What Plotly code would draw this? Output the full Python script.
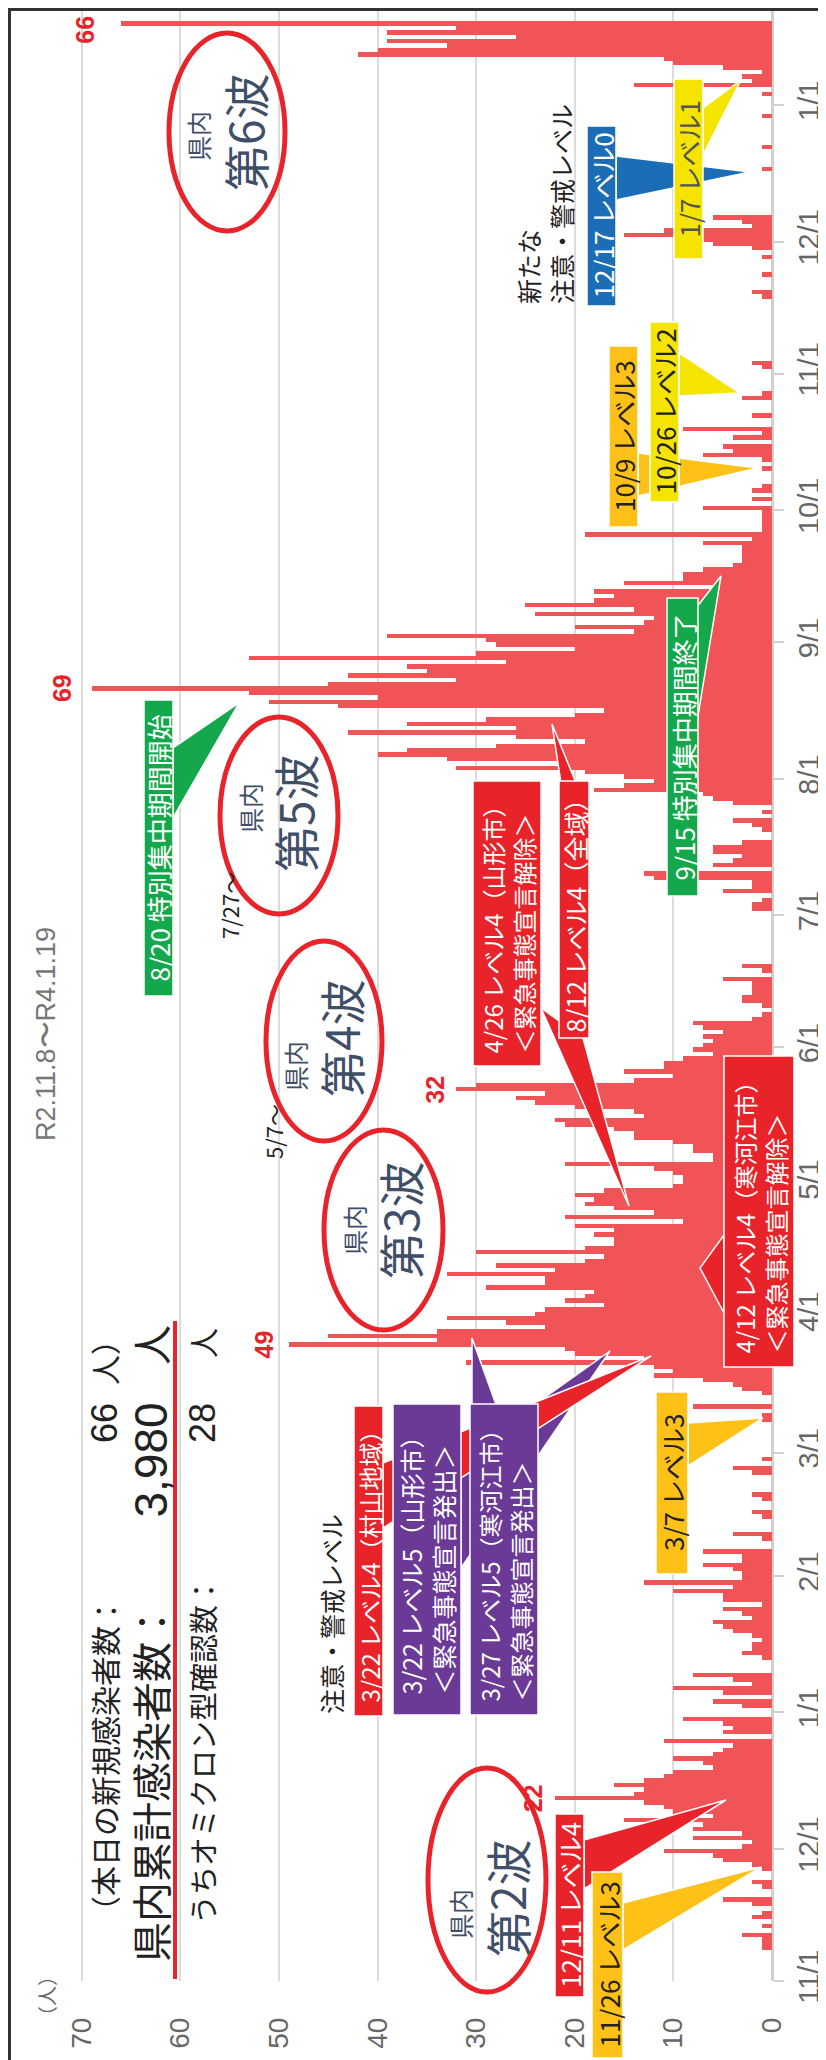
import pandas as pd
import plotly.graph_objects as go

# ---------------- data (daily new cases) ----------------
start_date = "2020-11-08"
nov_2020 = [1, 1, 1, 3, 0, 1, 0, 2, 1, 0, 2, 5, 0, 0, 1, 2, 0, 0, 1, 2, 5, 6, 11]
dec_2020 = [3, 2, 8, 3, 8, 7, 15, 6, 10, 11, 13, 22, 14, 13, 16, 13, 11, 10, 6, 7,
            10, 6, 5, 4, 11, 0, 5, 4, 5, 9, 0]
jan_2021 = [0, 3, 6, 0, 5, 10, 2, 4, 8, 0, 0, 0, 1, 3, 2, 2, 1, 2, 4, 5,
            6, 2, 3, 5, 1, 5, 5, 10, 4, 13, 3]
feb_2021 = [3, 4, 7, 3, 3, 7, 0, 0, 1, 4, 0, 0, 0, 1, 2, 0, 0, 1, 2, 0,
            0, 0, 0, 2, 4, 0, 1, 0]
mar_2021 = [0, 0, 0, 0, 0, 0, 0, 1, 1, 0, 8, 0, 0, 1, 3, 4, 7, 12, 10, 12,
            31, 13, 20, 21, 49, 34, 45, 34, 23, 27, 33]
apr_2021 = [24, 23, 17, 21, 19, 18, 29, 23, 23, 33, 22, 28, 19, 17, 30, 19, 16, 16, 18, 16,
            20, 9, 21, 12, 16, 19, 18, 20, 17, 10]
may_2021 = [9, 9, 10, 12, 21, 6, 6, 8, 8, 10, 14, 14, 16, 21, 22, 13, 14, 20, 24, 26,
            23, 32, 30, 14, 10, 15, 11, 11, 9, 6, 8]
jun_2021 = [7, 6, 7, 5, 7, 8, 2, 1, 0, 1, 3, 3, 2, 2, 2, 5, 0, 1, 3, 0,
            0, 0, 0, 0, 0, 0, 0, 0, 0, 0]
jul_2021 = [0, 2, 2, 1, 0, 5, 2, 2, 12, 13, 0, 6, 4, 3, 6, 6, 3, 0, 0, 1,
            2, 4, 0, 1, 0, 4, 6, 7, 18, 15, 12]
aug_2021 = [15, 19, 32, 21, 33, 40, 37, 28, 19, 26, 43, 26, 37, 29, 20, 17, 44, 51, 40, 53,
            69, 45, 32, 43, 35, 37, 27, 53, 30, 20, 28]
sep_2021 = [29, 39, 14, 20, 13, 12, 24, 14, 25, 18, 16, 18, 6, 15, 9, 9, 7, 4, 3, 3,
            3, 3, 7, 2, 19, 1, 1, 1, 1, 1]
oct_2021 = [7, 0, 2, 0, 2, 1, 0, 0, 0, 1, 0, 1, 7, 4, 5, 0, 4, 1, 9, 0,
            0, 2, 0, 0, 0, 3, 1, 0, 0, 0, 0]
nov_2021 = [0, 1, 2, 0, 0, 0, 0, 0, 0, 0, 0, 0, 0, 0, 0, 0, 0, 1, 2, 0,
            0, 0, 1, 0, 0, 0, 1, 0, 2, 6]
dec_2021 = [7, 15, 11, 2, 3, 6, 0, 0, 0, 0, 0, 0, 0, 0, 0, 0, 1, 0, 0, 0,
            0, 1, 0, 0, 0, 0, 0, 0, 1, 0, 0]
jan_2022 = [0, 0, 1, 0, 14, 2, 3, 1, 5, 10, 11, 42, 40, 33, 39, 26, 39, 32, 66]

daily_new_cases = (nov_2020 + dec_2020 + jan_2021 + feb_2021 + mar_2021 + apr_2021 +
                   may_2021 + jun_2021 + jul_2021 + aug_2021 + sep_2021 + oct_2021 +
                   nov_2021 + dec_2021 + jan_2022)
dates = pd.date_range(start_date, periods=len(daily_new_cases), freq="D")

value_ticks = [0, 10, 20, 30, 40, 50, 60, 70]
month_ticks = pd.date_range("2020-11-01", "2022-01-01", freq="MS")
month_labels = [f"{d.month}/1" for d in month_ticks]

peak_dates = ["2020-12-12", "2021-03-25", "2021-05-22", "2021-08-21", "2022-01-19"]

header_today = 66
header_total = "3,980"
header_omicron = 28
period_text = "R2.11.8〜R4.1.19"

# ---------------- geometry helpers ----------------
FW, FH = 826, 2060
ML, MR, MT, MB = 69, 62, 3, 87
PW = FW - ML - MR
PH = FH - MT - MB
PX_PER_DAY = 4.4035
JP = "Noto Sans CJK JP"
LAT = "Liberation Sans"


def px(x):
    return (x - ML) / PW


def py(y):
    return (FH - MB - y) / PH


shapes = []
annotations = []
boxes_text = []


def text(x, y, s, size, color="#222", family=JP, xanchor="center", yanchor="middle",
         align="center", weight="normal"):
    annotations.append(dict(xref="paper", yref="paper", x=px(x), y=py(y), text=s,
                            showarrow=False, textangle=-90, xanchor=xanchor, yanchor=yanchor,
                            align=align,
                            font=dict(family=family, size=size, color=color, weight=weight)))


def poly(points, color):
    path = "M " + " L ".join(f"{px(a):.5f},{py(b):.5f}" for a, b in points) + " Z"
    shapes.append(dict(type="path", xref="paper", yref="paper", path=path,
                       fillcolor=color, line=dict(color="white", width=1.5), layer="above"))


def box(x0, x1, y0, y1, color, s, tcolor, size=26, align="center"):
    shapes.append(dict(type="rect", xref="paper", yref="paper", x0=px(x0), x1=px(x1),
                       y0=py(y1), y1=py(y0), fillcolor=color,
                       line=dict(color="white", width=1.5), layer="above"))
    boxes_text.append(((x0 + x1) / 2, (y0 + y1) / 2, s, tcolor, size, align))


RED = "#E8232A"
PURPLE = "#6B3996"
AMBER = "#FDC117"
YELLOW = "#F4E400"
BLUE = "#1B6DB6"
GREEN = "#15A74B"

# ---------------- pointers ----------------
poly([(615, 1895), (615, 1942), (753, 1859)], AMBER)          # 11/26
poly([(576, 1832), (576, 1881), (718, 1792)], RED)            # 12/11
poly([(453, 1449), (453, 1560), (602, 1343)], PURPLE)         # 3/22 山形市
poly([(375, 1455), (375, 1520), (643, 1348)], RED)            # 3/22 村山
poly([(464, 1402), (490, 1402), (464, 1330)], PURPLE)         # 3/27
poly([(680, 1415), (680, 1458), (755, 1410)], AMBER)          # 3/7
poly([(716, 1227), (716, 1305), (692, 1260)], RED)            # 4/12
poly([(533, 1000), (575, 1030), (621, 1198)], RED)            # 4/26
poly([(553, 775), (568, 775), (544, 716)], RED)               # 8/12
poly([(165, 740), (165, 810), (231, 695)], GREEN)             # 8/20
poly([(688, 600), (688, 720), (713, 568)], GREEN)             # 9/15
poly([(630, 445), (630, 488), (750, 460)], AMBER)             # 10/9
poly([(671, 345), (671, 388), (732, 385)], YELLOW)            # 10/26
poly([(608, 148), (608, 192), (742, 164)], BLUE)              # 12/17
poly([(695, 100), (695, 147), (733, 72)], YELLOW)             # 1/7

# ---------------- boxes ----------------
box(584, 615, 1864, 2050, AMBER, "11/26 レベル3", "#222")
box(547, 576, 1806, 1989, RED, "12/11 レベル4", "white")
box(346, 375, 1398, 1708, RED, "3/22 レベル4（村山地域）", "white", size=24)
box(385, 453, 1396, 1707, PURPLE, "3/22 レベル5（山形市）<br>＜緊急事態宣言発出＞", "white", size=25, align="left")
box(462, 530, 1396, 1707, PURPLE, "3/27 レベル5（寒河江市）<br>＜緊急事態宣言発出＞", "white", size=24, align="left")
box(648, 680, 1384, 1566, AMBER, "3/7 レベル3", "#222")
box(716, 786, 1048, 1359, RED, "4/12 レベル4（寒河江市）<br>＜緊急事態宣言解除＞", "white", size=24, align="left")
box(465, 533, 773, 1058, RED, "4/26 レベル4（山形市）<br>＜緊急事態宣言解除＞", "white", size=24, align="left")
box(551, 581, 773, 1030, RED, "8/12 レベル4（全域）", "white", size=25)
box(136, 165, 692, 988, GREEN, "8/20 特別集中期間開始", "white")
box(659, 690, 590, 888, GREEN, "9/15 特別集中期間終了", "white")
box(601, 630, 338, 519, AMBER, "10/9 レベル3", "#222")
box(642, 671, 314, 494, YELLOW, "10/26 レベル2", "#222")
box(579, 608, 118, 298, BLUE, "12/17 レベル0", "white")
box(666, 695, 71, 251, YELLOW, "1/7 レベル1", "#555")

for cx, cy, s, tc, sz, al in boxes_text:
    text(cx, cy, s, sz, color=tc, align=al)

# ---------------- wave ellipses ----------------
waves = [
    ("第2波", 420, 538, 1760, 1984, (452, 1906), (498, 1890)),
    ("第3波", 316, 435, 1122, 1322, (346, 1222), (391, 1212)),
    ("第4波", 258, 374, 933, 1133, (287, 1058), (332, 1030)),
    ("第5波", 212, 330, 709, 906, (242, 800), (286, 805)),
    ("第6波", 161, 277, 25, 223, (190, 128), (236, 124)),
]
for name, x0, x1, y0, y1, small_pos, big_pos in waves:
    shapes.append(dict(type="circle", xref="paper", yref="paper", x0=px(x0), x1=px(x1),
                       y0=py(y1), y1=py(y0), line=dict(color=RED, width=5), layer="above"))
    text(small_pos[0], small_pos[1], "県内", 25, color="#3F4F68")
    text(big_pos[0], big_pos[1], name, 46, color="#3F4F68")

# ---------------- other texts ----------------
text(265, 1124, "5/7〜", 22)
text(221, 898, "7/27〜", 22)
text(323, 1708, "注意・警戒レベル", 25, yanchor="bottom")
text(537, 298, "新たな<br>注意・警戒レベル", 25, yanchor="bottom", align="left")
text(38, 1026, period_text, 27, color="#777", family=LAT)
text(38, 1988, "（人）", 20, color="#666")

# header
text(96, 1920, "（本日の新規感染者数：", 30, yanchor="bottom")
text(96, 1393, str(header_today), 36, family=LAT, yanchor="top")
text(96, 1315, "人）", 30, yanchor="top")
text(142, 1956, "県内累計感染者数：", 40, yanchor="bottom")
text(142, 1393, header_total, 46, family=LAT, yanchor="top")
text(142, 1315, "人", 40, yanchor="top")
text(194, 1918, "うちオミクロン型確認数：", 29, yanchor="bottom")
text(194, 1393, str(header_omicron), 36, family=LAT, yanchor="top")
text(194, 1318, "人", 30, yanchor="top")
shapes.append(dict(type="line", xref="paper", yref="paper", x0=px(167), x1=px(167),
                   y0=py(1971), y1=py(1313), line=dict(color=RED, width=4), layer="above"))

# peak labels (data coordinates)
peak_shift = [-6, -9, -5, -14, -20]
for d, sh in zip(peak_dates, peak_shift):
    i = list(dates).index(pd.Timestamp(d))
    v = daily_new_cases[i]
    annotations.append(dict(xref="x", yref="y", x=v, y=dates[i] + pd.Timedelta(hours=12),
                            text=str(v), showarrow=False, textangle=-90, xanchor="right",
                            xshift=sh, yshift=(-6 if v == 66 else 0),
                            font=dict(family=LAT, size=25, color=RED, weight="bold")))

# frame
shapes.append(dict(type="rect", xref="paper", yref="paper", x0=px(1.5), x1=px(FW - 1.5),
                   y0=py(FH - 1.5), y1=py(1.5), line=dict(color="#333", width=3), layer="above"))

# ---------------- figure ----------------
fig = go.Figure(go.Bar(
    x=daily_new_cases, y=dates + pd.Timedelta(hours=12), orientation="h",
    width=86400000, marker=dict(color="#F05457", line=dict(width=0)),
))

top = pd.Timestamp("2020-11-01") + pd.Timedelta(days=PH / PX_PER_DAY)
fig.update_layout(
    width=FW, height=FH, margin=dict(l=ML, r=MR, t=MT, b=MB),
    plot_bgcolor="white", paper_bgcolor="white", showlegend=False, bargap=0,
    shapes=shapes, annotations=annotations,
    xaxis=dict(range=[70.47, 0], tickvals=value_ticks, tickangle=-90,
               tickfont=dict(family=LAT, size=28, color="#666"),
               showgrid=True, gridcolor="#dcdcdc", gridwidth=1.5,
               zeroline=True, zerolinecolor="#d0d0d0", zerolinewidth=2,
               ticks="", ticklabelstandoff=30, fixedrange=True, automargin=False),
    yaxis=dict(type="date", range=[pd.Timestamp("2020-11-01"), top], side="right",
               tickvals=month_ticks, ticktext=month_labels, tickangle=-90,
               tickfont=dict(family=LAT, size=29, color="#666"),
               ticks="outside", ticklen=10, tickcolor="#d0d0d0", tickwidth=2,
               showline=True, linecolor="#d0d0d0", linewidth=2, showgrid=False,
               ticklabelstandoff=0, fixedrange=True, automargin=False),
)

fig.write_html("out.html")
